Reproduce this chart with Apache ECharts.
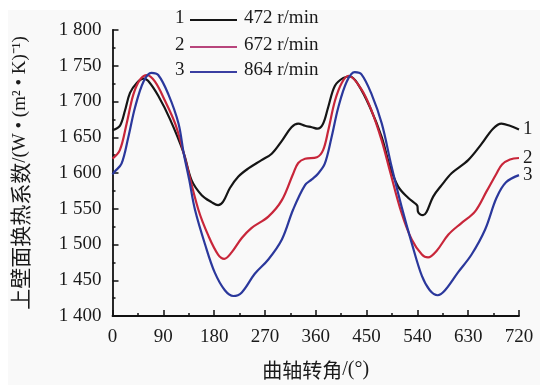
<!DOCTYPE html>
<html>
<head>
<meta charset="utf-8">
<script src="https://cdn.jsdelivr.net/npm/echarts@6/dist/echarts.min.js"></script>
<style>html,body{margin:0;padding:0;background:#fff;}#c{width:540px;height:385px;}</style>
</head>
<body>
<div id="c"></div>
<script>
// ---- data ----
const seriesNames = ['472 r/min', '672 r/min', '864 r/min'];
const seriesTags = ['1', '2', '3'];

const angle472 = [0,13,22,31,43,55,63,81,102,126,140,158,176,187,196,208,223,240,264,282,300,317,329,341,353,363,373,382,394,409,421,435,456,477,491,506,524,535,540,541,545,550,556,568,583,601,630,654,674,689,704,720];
const value472 = [1660,1666,1687,1712,1726,1732,1729,1708,1675,1628,1590,1569,1559,1555,1560,1579,1595,1606,1618,1627,1645,1664,1669,1666,1664,1662,1669,1692,1722,1733,1735,1724,1692,1650,1610,1581,1565,1558,1554,1546,1542,1541,1545,1567,1583,1600,1618,1641,1662,1669,1666,1661];

const angle672 = [0,13,25,37,49,61,75,93,111,126,152,170,187,198,211,229,246,276,300,320,329,341,362,373,382,394,406,418,441,459,477,491,512,530,548,559,574,595,618,642,663,680,690,704,720];
const value672 = [1620,1632,1669,1710,1731,1737,1728,1701,1669,1628,1549,1512,1486,1480,1489,1509,1523,1539,1562,1599,1614,1620,1622,1632,1659,1701,1726,1736,1717,1687,1645,1604,1544,1507,1486,1482,1491,1514,1530,1546,1575,1599,1612,1619,1621];

const angle864 = [0,4,16,28,40,55,69,81,99,117,126,136,146,164,181,199,214,229,252,276,300,320,341,353,364,376,388,400,415,429,441,459,477,494,512,530,548,562,576,589,612,636,660,680,697,720];
const value864 = [1598,1602,1613,1650,1692,1728,1740,1737,1710,1669,1628,1590,1549,1500,1461,1436,1428,1433,1459,1479,1507,1549,1583,1591,1599,1613,1650,1692,1728,1741,1738,1710,1669,1610,1553,1502,1456,1436,1429,1436,1461,1486,1521,1565,1587,1597];

const xTicks = [0, 720, 90];      // min, max, interval
const yTicks = [1400, 1800, 50];  // min, max, interval

const xTitleCJK = '曲轴转角';
const xTitleUnit = '/(°)';
const yTitleCJK = '上壁面换热系数';
const yTitleUnit = '/(W • (m² • K)⁻¹)';

// ---- styles ----
const lineColors = ['#151515', '#c8263a', '#2b389c'];
const legendColors = ['#151515', '#b8457c', '#3a3fa2'];
const serif = "'Liberation Serif','Noto Sans CJK SC',serif";
const cjk = "'Noto Sans CJK SC'";

function pairs(a, v) { return a.map((x, i) => [x, v[i]]); }
const dataSets = [pairs(angle472, value472), pairs(angle672, value672), pairs(angle864, value864)];

const chart = echarts.init(document.getElementById('c'), null, {renderer: 'canvas'});

const legendGraphics = [];
const rowY = [20, 47, 72];
for (let i = 0; i < 3; i++) {
  legendGraphics.push({type: 'text', left: 175, top: rowY[i] - 11,
    style: {text: seriesTags[i], font: "19px 'Liberation Serif'", fill: '#1a1a1a'}});
  legendGraphics.push({type: 'line', shape: {x1: 190, y1: rowY[i], x2: 237, y2: rowY[i]},
    style: {stroke: legendColors[i], lineWidth: 2}});
  legendGraphics.push({type: 'text', left: 244, top: rowY[i] - 11,
    style: {text: seriesNames[i], font: "19px 'Liberation Serif'", fill: '#1a1a1a'}});
}

const option = {
  backgroundColor: '#ffffff',
  animation: false,
  graphic: [
    {type: 'rect', z: -10, shape: {x: 8, y: 10, width: 532, height: 375}, style: {fill: '#f9f9f9'}},
    ...legendGraphics
  ],
  grid: {left: 112.5, right: 21, top: 30, bottom: 66},
  xAxis: {
    type: 'value', min: xTicks[0], max: xTicks[1], interval: xTicks[2],
    name: '{c|' + xTitleCJK + '}{u|' + xTitleUnit + '}', nameLocation: 'middle', nameGap: 44,
    nameTextStyle: {fontFamily: serif, fontSize: 20, color: '#1a1a1a',
      rich: {c: {fontFamily: cjk, fontSize: 20, color: '#1a1a1a'}, u: {fontFamily: serif, fontSize: 20, color: '#1a1a1a'}}},
    axisLine: {lineStyle: {color: '#111', width: 1.8}},
    axisTick: {inside: true, length: 6, lineStyle: {color: '#111', width: 1.5}},
    minorTick: {show: true, splitNumber: 2, length: 3, lineStyle: {color: '#111', width: 1.5}},
    splitLine: {show: false},
    axisLabel: {margin: 12, fontFamily: serif, fontSize: 19, color: '#1a1a1a'}
  },
  yAxis: {
    type: 'value', min: yTicks[0], max: yTicks[1], interval: yTicks[2],
    name: '{c|' + yTitleCJK + '}{u|' + yTitleUnit + '}', nameLocation: 'middle', nameRotate: 90, nameGap: 82,
    nameTextStyle: {fontFamily: serif, fontSize: 19, color: '#1a1a1a',
      rich: {c: {fontFamily: cjk, fontSize: 21, color: '#1a1a1a'}, u: {fontFamily: serif, fontSize: 19, color: '#1a1a1a'}}},
    axisLine: {show: true, lineStyle: {color: '#111', width: 1.8}},
    axisTick: {show: true, inside: true, length: 6, lineStyle: {color: '#111', width: 1.5}},
    minorTick: {show: true, splitNumber: 2, length: 3, lineStyle: {color: '#111', width: 1.5}},
    splitLine: {show: false},
    axisLabel: {margin: 11, fontFamily: serif, fontSize: 19, color: '#1a1a1a',
      formatter: v => String(v).replace(/\B(?=(\d{3})+(?!\d))/g, ' ')}
  },
  series: dataSets.map((d, i) => ({
    type: 'line', name: seriesNames[i], data: d, smooth: 0.35, showSymbol: false,
    lineStyle: {color: lineColors[i], width: 2.2},
    itemStyle: {color: lineColors[i]},
    endLabel: {show: true, formatter: seriesTags[i], distance: 4,
      fontFamily: serif, fontSize: 19, color: '#1a1a1a'}
  }))
};
chart.setOption(option);
</script>
</body>
</html>
